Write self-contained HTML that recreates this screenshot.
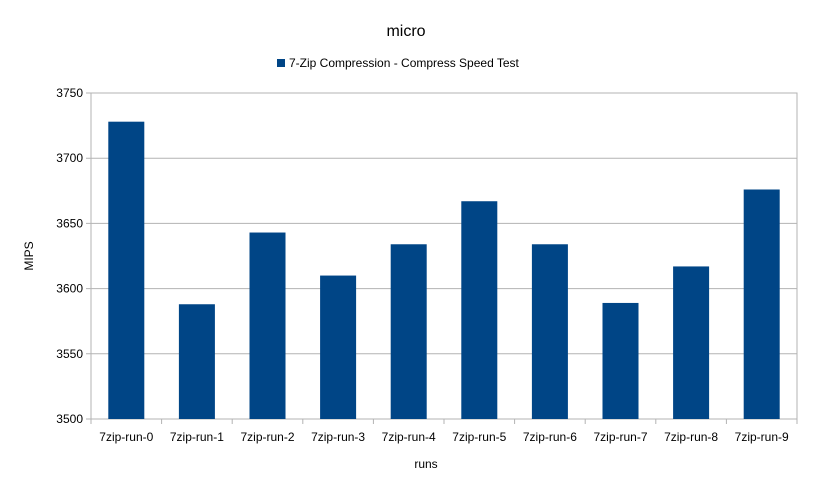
<!DOCTYPE html>
<html><head><meta charset="utf-8"><style>
body{margin:0;background:#fff;font-family:"Liberation Sans",sans-serif;}
svg text{font-family:"Liberation Sans",sans-serif;}
</style></head><body>
<svg id="c" width="813" height="490">
<text x="406" y="36" font-size="16" text-anchor="middle">micro</text>
<g>
<rect x="277" y="59" width="8" height="8" fill="#004586"/>
<text x="289" y="67" font-size="12">7-Zip Compression - Compress Speed Test</text>
</g>
<text x="0" y="0" font-size="12" text-anchor="middle" transform="translate(33,256) rotate(-90)">MIPS</text>
<text x="426" y="468" font-size="12" text-anchor="middle">runs</text>
<g id="grid"></g><g id="bars"></g><g id="labels"></g>
</svg>
<script>
const categories=["7zip-run-0","7zip-run-1","7zip-run-2","7zip-run-3","7zip-run-4","7zip-run-5","7zip-run-6","7zip-run-7","7zip-run-8","7zip-run-9"];
const values=[3728,3588,3643,3610,3634,3667,3634,3589,3617,3676];
const yTicks=[3500,3550,3600,3650,3700,3750];
const NS="http://www.w3.org/2000/svg";
const L=91,R=797,T=93,B=419,ymin=3500,ymax=3750;
const y=v=>B-(v-ymin)/(ymax-ymin)*(B-T);
const bw=(R-L)/categories.length;
const x=i=>L+bw*i;
function mk(t,a,p){const e=document.createElementNS(NS,t);for(const k in a)e.setAttribute(k,a[k]);p.appendChild(e);return e;}
const g=document.getElementById('grid'),bg=document.getElementById('bars'),lg=document.getElementById('labels');
yTicks.forEach(v=>{
 const l=mk('line',{x1:L-5,x2:R,y1:y(v),y2:y(v),stroke:'#b3b3b3','stroke-width':1},g);
 
 
 const t=mk('text',{x:L-8,y:y(v)+4,'font-size':12,'text-anchor':'end'},lg);
 t.textContent=v;
 
 
});
const fr=mk('rect',{x:L,y:T,width:R-L,height:B-T,fill:'none',stroke:'#b3b3b3'},g);


for(let i=0;i<=categories.length;i++){
 const tk=mk('line',{x1:x(i),x2:x(i),y1:B,y2:B+5,stroke:'#b3b3b3'},g);
 
 
}
categories.forEach((c,i)=>{
 const w=bw*0.51,cx=x(i)+bw/2;
 const r=mk('rect',{x:cx-w/2,y:y(values[i]),width:w,height:B-y(values[i]),fill:'#004586'},bg);
 
 
 const t=mk('text',{x:cx,y:B+22,'font-size':12,'text-anchor':'middle'},lg);
 t.textContent=c;
 
 
});
</script>
</body></html>
